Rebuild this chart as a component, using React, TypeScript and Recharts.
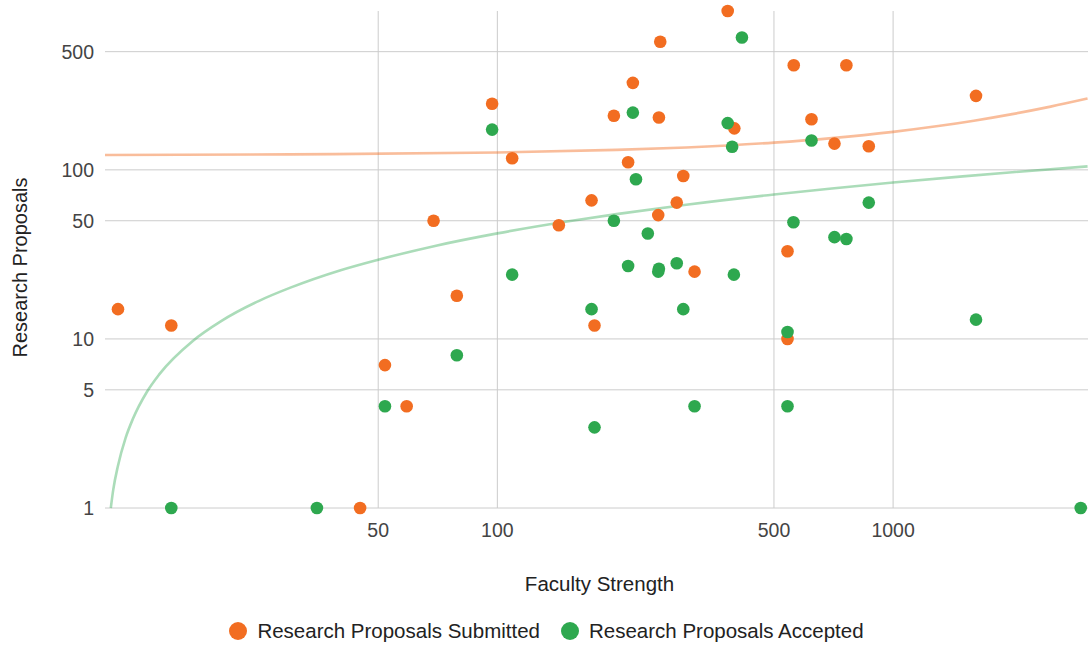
import { ScatterChart, Scatter, XAxis, YAxis, CartesianGrid } from 'recharts';

const FONT = 'Arial, "Liberation Sans", sans-serif';
const SUBMITTED_COLOR = '#f26d21';
const ACCEPTED_COLOR = '#2ea84f';

// faculty strength -> research proposals submitted
const submittedFaculty = [11, 15, 45, 52, 59, 69, 79, 97, 109, 143, 173, 176, 197, 220, 214, 258, 256, 295, 284, 255, 382, 397, 561, 622, 541, 711, 762, 868, 1620, 541, 315];
const submittedCount = [15, 12, 1, 7, 4, 50, 18, 246, 117, 47, 66, 12, 209, 327, 111, 572, 204, 92, 64, 54, 870, 176, 416, 199, 33, 143, 416, 138, 274, 10, 25];

// faculty strength -> research proposals accepted
const acceptedFaculty = [15, 35, 52, 79, 97, 109, 173, 176, 220, 224, 197, 240, 382, 392, 415, 622, 560, 214, 256, 255, 284, 396, 295, 315, 541, 541, 868, 711, 762, 1620, 2979];
const acceptedCount = [1, 1, 4, 8, 173, 24, 15, 3, 218, 88, 50, 42, 189, 137, 606, 149, 49, 27, 26, 25, 28, 24, 15, 4, 11, 4, 64, 40, 39, 13, 1];

// trend lines
const submittedTrendFaculty = [10.2, 30, 100, 200, 300, 500, 700, 1000, 1300, 1600, 2000, 2500, 3100];
const submittedTrendCount = [122.5, 123.4, 126.6, 131.2, 135.7, 144.9, 154.1, 167.8, 181.5, 195.3, 213.6, 236.5, 264];
const acceptedTrendFaculty = [10.55, 10.7, 11, 11.5, 12, 13, 14, 17, 20, 25, 30, 40, 50, 70, 100, 150, 200, 300, 500, 700, 1000, 1500, 2000, 3100];
const acceptedTrendCount = [1, 1.28, 1.78, 2.6, 3.37, 4.84, 6.19, 9.73, 12.7, 16.8, 20.1, 25.4, 29.4, 35.6, 42.1, 49.5, 54.7, 62.2, 71.5, 77.6, 84.1, 91.5, 96.8, 104.8];

const xTicks = [50, 100, 500, 1000];
const yTicks = [1, 5, 10, 50, 100, 500];

const toPoints = (xs: number[], ys: number[]) => xs.map((x, i) => ({ x, y: ys[i] }));

const submitted = toPoints(submittedFaculty, submittedCount);
const accepted = toPoints(acceptedFaculty, acceptedCount);
const submittedTrend = toPoints(submittedTrendFaculty, submittedTrendCount);
const acceptedTrend = toPoints(acceptedTrendFaculty, acceptedTrendCount);

const dot = (color: string) => (props: any) => <circle cx={props.cx} cy={props.cy} r={6.3} fill={color} />;
const noDot = () => <g />;

const legendItems = [
  { label: 'Research Proposals Submitted', color: SUBMITTED_COLOR },
  { label: 'Research Proposals Accepted', color: ACCEPTED_COLOR },
];

export default function App() {
  const tick = { fontSize: 19.5, fill: '#444', fontFamily: FONT };
  return (
    <div style={{ position: 'absolute', left: 0, top: 0, width: 1089, height: 645, background: '#fff', fontFamily: FONT }}>
      <ScatterChart width={1089} height={645} margin={{ top: 11, right: 1, bottom: 0, left: 0 }}>
        <CartesianGrid stroke="#cccccc" syncWithTicks />
        <XAxis
          type="number"
          dataKey="x"
          scale="log"
          domain={[10.2, 3108]}
          ticks={xTicks}
          axisLine={false}
          tickLine={false}
          tickSize={0}
          tickMargin={15}
          height={137}
          tick={tick}
          label={{
            content: ({ viewBox }: any) => (
              <text x={viewBox.x + viewBox.width / 2 + 3} y={viewBox.y + 83} textAnchor="middle" fontSize={20.5} fill="#222" fontFamily={FONT}>
                Faculty Strength
              </text>
            ),
          }}
        />
        <YAxis
          type="number"
          dataKey="y"
          scale="log"
          domain={[1, 870]}
          ticks={yTicks}
          width={105}
          axisLine={false}
          tickLine={false}
          tickSize={0}
          tickMargin={11}
          tick={tick}
          label={{
            content: ({ viewBox }: any) => (
              <text
                transform={`translate(${viewBox.x + 27},${viewBox.y + viewBox.height / 2 + 8}) rotate(-90)`}
                textAnchor="middle"
                fontSize={20}
                fill="#222"
                fontFamily={FONT}
              >
                Research Proposals
              </text>
            ),
          }}
        />
        <Scatter data={submittedTrend} line={{ stroke: SUBMITTED_COLOR, strokeWidth: 2.6, strokeOpacity: 0.45 }} lineJointType="monotoneX" shape={noDot} legendType="none" isAnimationActive={false} />
        <Scatter data={acceptedTrend} line={{ stroke: ACCEPTED_COLOR, strokeWidth: 2.6, strokeOpacity: 0.4 }} lineJointType="monotoneX" shape={noDot} legendType="none" isAnimationActive={false} />
        <Scatter data={submitted} fill={SUBMITTED_COLOR} shape={dot(SUBMITTED_COLOR)} isAnimationActive={false} />
        <Scatter data={accepted} fill={ACCEPTED_COLOR} shape={dot(ACCEPTED_COLOR)} isAnimationActive={false} />
      </ScatterChart>
      <div style={{ position: 'absolute', left: 2, top: 618, width: 1089, display: 'flex', justifyContent: 'center', gap: 21 }}>
        {legendItems.map((item) => (
          <div key={item.label} style={{ display: 'flex', alignItems: 'center', fontSize: 20.5, color: '#222', lineHeight: '26px' }}>
            <span style={{ width: 18, height: 18, borderRadius: 9, background: item.color, marginRight: 10, display: 'inline-block' }} />
            {item.label}
          </div>
        ))}
      </div>
    </div>
  );
}
